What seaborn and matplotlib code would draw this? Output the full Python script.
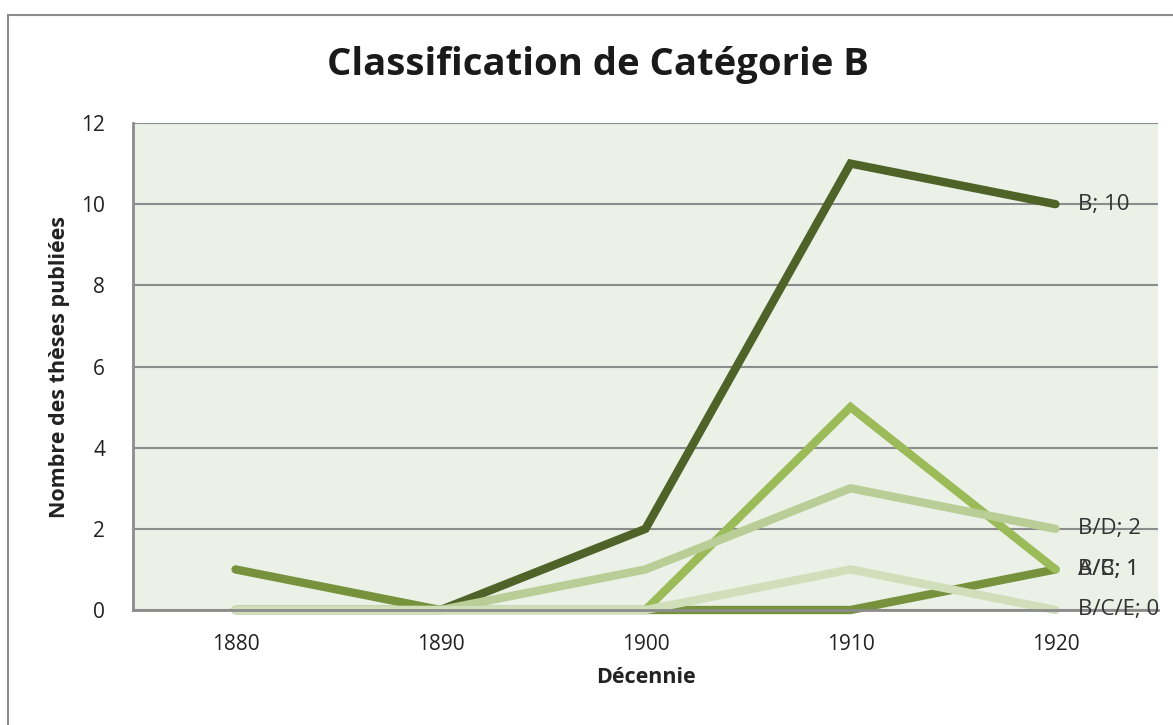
import matplotlib
matplotlib.use("Agg")
import matplotlib.pyplot as plt
from matplotlib.patches import Rectangle
import pandas as pd
import seaborn as sns

# --- Data ---
decades = [1880, 1890, 1900, 1910, 1920]
series_names = ["B", "A/B", "B/C", "B/D", "B/C/E"]
b_vals = [0, 0, 2, 11, 10]
ab_vals = [1, 0, 0, 0, 1]
bc_vals = [0, 0, 0, 5, 1]
bd_vals = [0, 0, 1, 3, 2]
bce_vals = [0, 0, 0, 1, 0]

colors = {
    "B": "#4f6228",
    "A/B": "#76923c",
    "B/C": "#9bbb59",
    "B/D": "#b9cd96",
    "B/C/E": "#d0deb9",
}

rows = []
for name, vals in zip(series_names, [b_vals, ab_vals, bc_vals, bd_vals, bce_vals]):
    for d, v in zip(decades, vals):
        rows.append({"Décennie": d, "Valeur": v, "Série": name})
df = pd.DataFrame(rows)

# --- Plotting ---
sns.set_theme(style="white")
plt.rcParams["font.family"] = ["Open Sans", "DejaVu Sans"]

fig = plt.figure(figsize=(11.73, 7.25), dpi=100)
ax = fig.add_axes([133 / 1173, 1 - 610 / 725, (1158 - 133) / 1173, (610 - 123) / 725])
ax.set_facecolor("#ebf1e7")

sns.lineplot(
    data=df, x="Décennie", y="Valeur", hue="Série",
    hue_order=series_names, palette=colors, linewidth=6,
    legend=False, ax=ax,
)
for line in ax.lines:
    line.set_solid_capstyle("round")
    line.set_solid_joinstyle("miter")
    line.set_clip_on(False)

ax.set_xlim(1875, 1925)
ax.set_ylim(0, 12)
ax.set_xticks(decades)
ax.set_yticks(range(0, 13, 2))
ax.tick_params(axis="both", labelsize=15, colors="#222222", length=0)
ax.tick_params(axis="y", pad=20)
ax.tick_params(axis="x", pad=17)

ax.yaxis.grid(True, color="#8c8c8c", linewidth=1.5)
ax.xaxis.grid(False)
ax.set_axisbelow(True)
for side in ["top", "right"]:
    ax.spines[side].set_visible(False)
for side in ["left", "bottom"]:
    ax.spines[side].set_color("#8c8c8c")
    ax.spines[side].set_linewidth(2)

ax.set_xlabel("Décennie", fontsize=15.5, fontweight="bold", labelpad=9, color="#222222")
ax.set_ylabel("Nombre des thèses publiées", fontsize=15.5, fontweight="bold", labelpad=8, color="#222222")

fig.text(598 / 1173, 1 - 65 / 725, "Classification de Catégorie B",
         ha="center", va="center", fontsize=27.5, fontweight="bold", color="#1a1a1a")

# end labels
last_vals = {"B": b_vals[-1], "A/B": ab_vals[-1], "B/C": bc_vals[-1],
             "B/D": bd_vals[-1], "B/C/E": bce_vals[-1]}
for name in series_names:
    ax.text(decades[-1] + 1.1, last_vals[name], f"{name}; {last_vals[name]}",
            ha="left", va="center", fontsize=16, color="#333333", clip_on=False)

# outer chart border
fig.patches.append(Rectangle((8 / 1173, -0.1), 1.2, 1 - 15 / 725 + 0.1,
                             transform=fig.transFigure, fill=False,
                             edgecolor="#8c8c8c", linewidth=1.5))

fig.savefig("out.png", dpi=100)
